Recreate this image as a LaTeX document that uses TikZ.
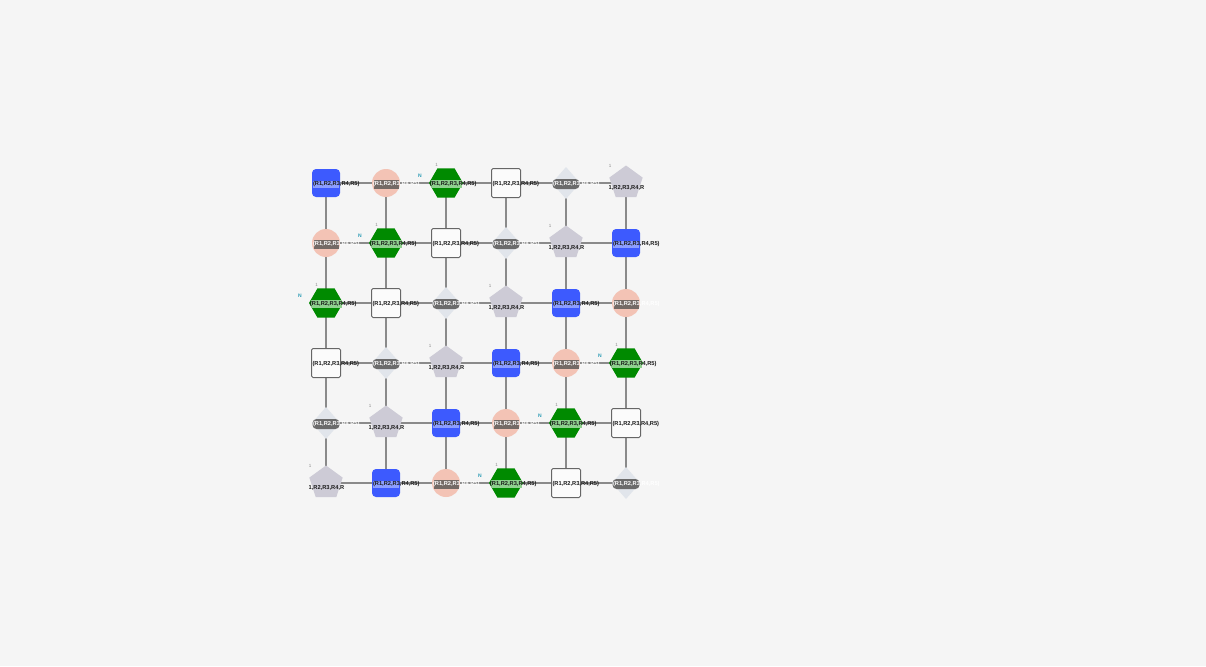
\documentclass[tikz,border=0pt]{standalone}
\usepackage{fontspec}
\setmainfont{Liberation Sans}
\usetikzlibrary{shapes.geometric,positioning}

\definecolor{fond}{HTML}{F5F5F5}
\definecolor{arete}{HTML}{8A8A8A}
\definecolor{bleu}{HTML}{3D5AFE}
\definecolor{bleuclair}{HTML}{8C9EFF}
\definecolor{saumon}{HTML}{F3C3B5}
\definecolor{grisbande}{HTML}{746A66}
\definecolor{vert}{HTML}{008A00}
\definecolor{vertclair}{HTML}{8FD18F}
\definecolor{losange}{HTML}{E1E5EB}
\definecolor{penta}{HTML}{CDCBD6}
\definecolor{sarcelle}{HTML}{2A9BB5}

\pgfdeclarelayer{fondl}
\pgfdeclarelayer{bg}
\pgfsetlayers{fondl,bg,main}

\tikzset{
  base/.style={inner sep=0pt, outer sep=0pt},
  carrebleu/.style={base, rectangle, rounded corners=4pt, fill=bleu, minimum size=28pt},
  rond/.style={base, circle, fill=saumon, minimum size=28pt},
  hexa/.style={base, regular polygon, regular polygon sides=6, fill=vert, minimum size=34pt},
  carreblanc/.style={base, rectangle, rounded corners=1.5pt, fill=white!60!fond, draw=black!60, line width=1pt, minimum size=29pt},
  losangegris/.style={base, diamond, fill=losange, minimum width=28pt, minimum height=32pt},
  pentagris/.style={base, regular polygon, regular polygon sides=5, fill=penta, minimum size=35pt},
  etiq/.style={base, font=\bfseries\fontsize{5.7}{6}\selectfont, anchor=west, text=black!90, yshift=-1pt},
  bande/.style={base, rectangle, minimum width=26pt, minimum height=7pt, yshift=-1pt},
  petit/.style={base, font=\fontsize{4.5}{5}\selectfont, text=black!45},
  lettre/.style={base, font=\bfseries\fontsize{5}{5}\selectfont, text=sarcelle},
  lien/.style={draw=arete, line width=2pt},
}

\begin{document}
\begin{tikzpicture}[x=1pt,y=-1pt]
	% fond
	\begin{pgfonlayer}{fondl}
		\fill[fond] (0,0) rectangle (1206,666);
	\end{pgfonlayer}

	% noeuds
	\foreach \r in {0,...,5}{
		\foreach \c in {0,...,5}{
			\pgfmathtruncatemacro\typ{mod(\r+\c,6)}
			\ifcase\typ
				\node[carrebleu] (n-\r-\c) at (326+60*\c,183+60*\r) {};
				\node[bande, fill=bleuclair] (b-\r-\c) at (n-\r-\c) {};
				\node[etiq] (e-\r-\c) at ([xshift=1pt]n-\r-\c.west) {(R1,R2,R3,R4,R5)};
			\or
				\node[rond] (n-\r-\c) at (326+60*\c,183+60*\r) {};
				\node[bande, fill=grisbande, minimum width=25pt, minimum height=9pt] (b-\r-\c) at (n-\r-\c) {};
				\node[etiq, text=white] (e-\r-\c) at ([xshift=1pt]n-\r-\c.west) {(R1,R2,R3,R4,R5)};
			\or
				\node[hexa] (n-\r-\c) at (326+60*\c,183+60*\r) {};
				\node[bande, fill=vertclair, minimum width=31pt, minimum height=8pt] (b-\r-\c) at (n-\r-\c) {};
				\node[etiq] (e-\r-\c) at ([xshift=1pt]n-\r-\c.west) {(R1,R2,R3,R4,R5)};
				\node[petit] (u-\r-\c) at ([xshift=-9.5pt,yshift=18.5pt]n-\r-\c) {1};
				\node[lettre] (m-\r-\c) at ([xshift=-26pt,yshift=7pt]n-\r-\c) {N};
			\or
				\node[carreblanc] (n-\r-\c) at (326+60*\c,183+60*\r) {};
				\node[etiq] (e-\r-\c) at ([xshift=1pt]n-\r-\c.west) {(R1,R2,R3,R4,R5)};
			\or
				\node[losangegris] (n-\r-\c) at (326+60*\c,183+60*\r) {};
				\node[bande, fill=black!58, rounded corners=4pt, minimum width=27pt, minimum height=10pt] (b-\r-\c) at (n-\r-\c) {};
				\node[etiq, text=white] (e-\r-\c) at ([xshift=1pt]n-\r-\c.west) {(R1,R2,R3,R4,R5)};
			\or
				\node[pentagris] (n-\r-\c) at (326+60*\c,183+60*\r) {};
				\begin{scope}
					\clip ([xshift=-17pt,yshift=16pt]n-\r-\c.center) rectangle ([xshift=17pt,yshift=-16pt]n-\r-\c.center);
					\node[etiq, anchor=center, yshift=-4.5pt] (e-\r-\c) at (n-\r-\c) {(R1,R2,R3,R4,R5)};
				\end{scope}
				\node[petit] (u-\r-\c) at ([xshift=-16pt,yshift=17pt]n-\r-\c) {1};
			\fi
		}
	}

	% aretes
	\begin{pgfonlayer}{bg}
		\foreach \r in {0,...,5}{
			\foreach \c [count=\d] in {0,...,4}{
				\draw[lien] (n-\r-\c.center) -- (n-\r-\d.center);
				\draw[lien] (n-\c-\r.center) -- (n-\d-\r.center);
			}
		}
	\end{pgfonlayer}
\end{tikzpicture}
\end{document}
